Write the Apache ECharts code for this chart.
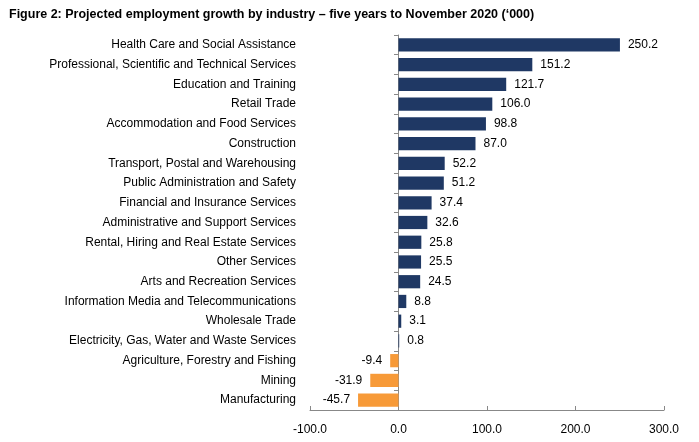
<!DOCTYPE html>
<html>
<head>
<meta charset="utf-8">
<script src="https://cdn.jsdelivr.net/npm/echarts@6/dist/echarts.min.js"></script>
<style>html,body{margin:0;padding:0;background:#fff;}#chart{width:699px;height:442px;}</style>
</head>
<body>
<div id="chart"></div>
<script>
var industries = [
    'Health Care and Social Assistance',
    'Professional, Scientific and Technical Services',
    'Education and Training',
    'Retail Trade',
    'Accommodation and Food Services',
    'Construction',
    'Transport, Postal and Warehousing',
    'Public Administration and Safety',
    'Financial and Insurance Services',
    'Administrative and Support Services',
    'Rental, Hiring and Real Estate Services',
    'Other Services',
    'Arts and Recreation Services',
    'Information Media and Telecommunications',
    'Wholesale Trade',
    'Electricity, Gas, Water and Waste Services',
    'Agriculture, Forestry and Fishing',
    'Mining',
    'Manufacturing'
];
var growth = [250.2, 151.2, 121.7, 106.0, 98.8, 87.0, 52.2, 51.2, 37.4, 32.6, 25.8, 25.5, 24.5, 8.8, 3.1, 0.8, -9.4, -31.9, -45.7];
var xTicks = [-100, 0, 100, 200, 300];

var font = '"Liberation Sans", Arial, sans-serif';
var chart = echarts.init(document.getElementById('chart'));
chart.setOption({
    animation: false,
    title: {
        text: 'Figure 2: Projected employment growth by industry \u2013 five years to November 2020 (\u2018000)',
        left: 4, top: 3,
        textStyle: { fontFamily: font, fontSize: 12.5, fontWeight: 'bold', color: '#000' }
    },
    grid: { left: 310, right: 35, top: 35, bottom: 32 },
    xAxis: {
        type: 'value', min: xTicks[0], max: xTicks[xTicks.length - 1], interval: 100,
        splitLine: { show: false },
        axisLine: { show: true, lineStyle: { color: '#888' } },
        axisTick: { show: true, inside: true, length: 4, lineStyle: { color: '#888' } },
        axisLabel: { fontFamily: font, fontSize: 12, color: '#000', margin: 14,
            formatter: function (v) { return v.toFixed(1); } }
    },
    yAxis: [{
        type: 'category', data: industries, inverse: true,
        axisLine: { show: false }, axisTick: { show: false },
        axisLabel: { fontFamily: font, fontSize: 12, color: '#000', margin: 14 }
    }, {
        type: 'category', data: industries, inverse: true, position: 'left', offset: -88,
        axisLine: { show: true, lineStyle: { color: '#888' } },
        axisTick: { show: true, length: 4, lineStyle: { color: '#888' } },
        axisLabel: { show: false }
    }],
    series: [{
        type: 'bar', barCategoryGap: '33%',
        data: growth.map(function (v) {
            return { value: v, itemStyle: { color: v < 0 ? '#F79A38' : '#1F3864' } };
        }),
        label: {
            show: true, position: 'right', distance: 8,
            fontFamily: font, fontSize: 12, color: '#000',
            formatter: function (p) { return p.value.toFixed(1); }
        },
        labelLayout: function (p) { return {}; }
    }]
});
// negative bars: label on the left
var opt = chart.getOption();
opt.series[0].data = growth.map(function (v) {
    return {
        value: v,
        itemStyle: { color: v < 0 ? '#F79A38' : '#1F3864' },
        label: { position: v < 0 ? 'left' : 'right' }
    };
});
chart.setOption({ series: [{ data: opt.series[0].data }] });
</script>
</body>
</html>
